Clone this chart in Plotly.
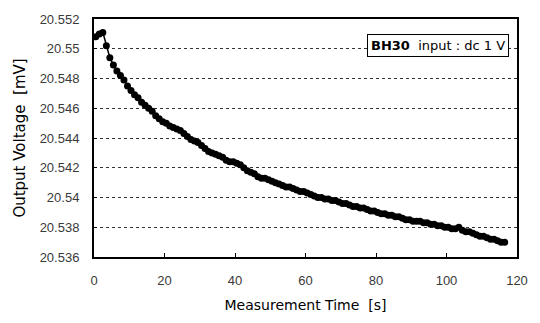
import plotly.graph_objects as go

# Measurement time [s]
time_s = [0.5, 1.5, 2.5, 3.5, 4.5, 5.5, 6.5, 7.5, 8.5, 9.5,
          10.5, 11.5, 12.5, 13.5, 14.5, 15.5, 16.5, 17.5, 18.5, 19.5,
          20.5, 21.5, 22.5, 23.5, 24.5, 25.5, 26.5, 27.5, 28.5, 29.5,
          30.5, 31.5, 32.5, 33.5, 34.5, 35.5, 36.5, 37.5, 38.5, 39.5,
          40.5, 41.5, 42.5, 43.5, 44.5, 45.5, 46.5, 47.5, 48.5, 49.5,
          50.5, 51.5, 52.5, 53.5, 54.5, 55.5, 56.5, 57.5, 58.5, 59.5,
          60.5, 61.5, 62.5, 63.5, 64.5, 65.5, 66.5, 67.5, 68.5, 69.5,
          70.5, 71.5, 72.5, 73.5, 74.5, 75.5, 76.5, 77.5, 78.5, 79.5,
          80.5, 81.5, 82.5, 83.5, 84.5, 85.5, 86.5, 87.5, 88.5, 89.5,
          90.5, 91.5, 92.5, 93.5, 94.5, 95.5, 96.5, 97.5, 98.5, 99.5,
          100.5, 101.5, 102.5, 103.5, 104.5, 105.5, 106.5, 107.5, 108.5, 109.5,
          110.5, 111.5, 112.5, 113.5, 114.5, 115.5, 116.5]

# Output voltage [mV]
voltage_mv = [20.5508, 20.5510, 20.5511, 20.5502, 20.5494, 20.5489, 20.5485, 20.5482, 20.5479, 20.5475,
              20.5472, 20.5469, 20.5467, 20.5464, 20.5462, 20.5460, 20.5458, 20.5455, 20.5453, 20.5451,
              20.5450, 20.5448, 20.5447, 20.5446, 20.5445, 20.5443, 20.5441, 20.5439, 20.5438, 20.5437,
              20.5435, 20.5433, 20.5431, 20.5430, 20.5429, 20.5428, 20.5427, 20.5425, 20.5424, 20.5424,
              20.5423, 20.5422, 20.5420, 20.5418, 20.5417, 20.5416, 20.5414, 20.5413, 20.5413, 20.5412,
              20.5411, 20.5410, 20.5409, 20.5408, 20.5407, 20.5407, 20.5406, 20.5405, 20.5404, 20.5404,
              20.5403, 20.5402, 20.5401, 20.5400, 20.5400, 20.5399, 20.5399, 20.5398, 20.5398, 20.5397,
              20.5396, 20.5396, 20.5395, 20.5394, 20.5394, 20.5393, 20.5393, 20.5392, 20.5391, 20.5391,
              20.5390, 20.5389, 20.5389, 20.5388, 20.5388, 20.5387, 20.5387, 20.5386, 20.5385, 20.5385,
              20.5384, 20.5384, 20.5384, 20.5383, 20.5383, 20.5382, 20.5382, 20.5381, 20.5381, 20.5380,
              20.5380, 20.5379, 20.5379, 20.5380, 20.5378, 20.5377, 20.5377, 20.5376, 20.5375, 20.5374,
              20.5374, 20.5373, 20.5372, 20.5372, 20.5371, 20.5370, 20.5370]

x_ticks = [0, 20, 40, 60, 80, 100, 120]
y_ticks = [20.536, 20.538, 20.54, 20.542, 20.544, 20.546, 20.548, 20.55, 20.552]

fig = go.Figure()
fig.add_trace(go.Scatter(
    x=time_s, y=voltage_mv, mode="lines+markers",
    line=dict(color="black", width=1.5),
    marker=dict(color="black", size=7),
    showlegend=False,
))

tick_font = dict(family="Liberation Sans, Arial, sans-serif", size=13, color="#3a3a3a")
title_font = dict(family="DejaVu Sans, sans-serif", size=14, color="black")

fig.update_layout(
    width=540, height=323,
    margin=dict(l=94, r=19, t=14, b=64),
    paper_bgcolor="white", plot_bgcolor="white",
    xaxis=dict(
        range=[0, 120], tickvals=x_ticks, ticks="inside", ticklen=4, tickcolor="black",
        showgrid=False, zeroline=False, showline=True, linecolor="black", linewidth=2, mirror=True,
        tickfont=tick_font, ticklabelstandoff=10,
        title=dict(text="Measurement Time  [s]", font=title_font, standoff=14),
    ),
    yaxis=dict(
        range=[20.536, 20.552], tickvals=y_ticks, ticks="inside", ticklen=3, tickcolor="black",
        showgrid=True, gridcolor="#333333", griddash="3px,3px", gridwidth=1,
        zeroline=False, showline=True, linecolor="black", linewidth=2, mirror=True,
        tickfont=tick_font, ticklabelstandoff=10,
        title=dict(text="Output Voltage  [mV]", font=dict(family="DejaVu Sans, sans-serif", size=15, color="black"), standoff=10),
    ),
    annotations=[dict(
        xref="paper", yref="paper", x=0.98, y=0.89, xanchor="right", yanchor="middle",
        text="<b>BH30</b>  input : dc 1 V", showarrow=False,
        font=dict(family="DejaVu Sans, sans-serif", size=13, color="black"),
        bgcolor="white", bordercolor="black", borderwidth=1, borderpad=3,
    )],
)

fig.write_html("out.html")
